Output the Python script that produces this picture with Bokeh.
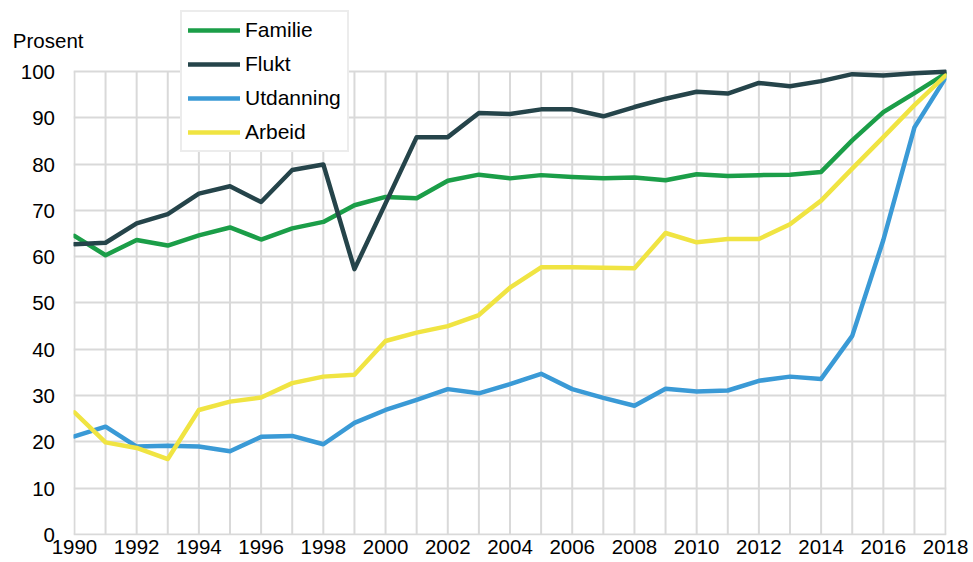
from bokeh.plotting import figure
from bokeh.models import Range1d, FixedTicker, Legend, LegendItem
from bokeh.embed import file_html
from bokeh.resources import INLINE

years = list(range(1990, 2019))
familie = [64.5, 60.3, 63.6, 62.4, 64.6, 66.3, 63.7, 66.1, 67.5, 71.1,
           72.9, 72.6, 76.4, 77.7, 76.9, 77.6, 77.2, 76.9, 77.1, 76.5,
           77.8, 77.4, 77.6, 77.7, 78.3, 85.1, 91.2, 95.3, 99.5]
flukt = [62.7, 63.0, 67.2, 69.2, 73.6, 75.2, 71.8, 78.7, 79.9, 57.3,
         71.5, 85.8, 85.8, 91.0, 90.8, 91.8, 91.8, 90.3, 92.3, 94.1,
         95.6, 95.2, 97.5, 96.8, 97.9, 99.4, 99.1, 99.6, 99.9]
utdanning = [21.2, 23.3, 19.0, 19.2, 19.0, 18.0, 21.1, 21.3, 19.5, 24.1,
             26.9, 29.1, 31.4, 30.5, 32.5, 34.7, 31.4, 29.5, 27.8, 31.5,
             30.9, 31.1, 33.2, 34.1, 33.6, 42.9, 63.6, 87.9, 98.6]
arbeid = [26.4, 19.9, 18.7, 16.3, 26.9, 28.7, 29.6, 32.7, 34.1, 34.5,
          41.8, 43.6, 45.0, 47.4, 53.3, 57.7, 57.7, 57.6, 57.5, 65.1,
          63.1, 63.8, 63.8, 67.0, 72.1, 79.0, 85.8, 92.7, 99.1]

series_names = ["Familie", "Flukt", "Utdanning", "Arbeid"]
series_values = [familie, flukt, utdanning, arbeid]
colors = ["#1b9e48", "#25444a", "#3a9ad6", "#f0e442"]

x_tick_labels = list(range(1990, 2019, 2))
y_ticks = list(range(0, 101, 10))
y_unit_label = "Prosent"
y_unit_pos = 106.6   # the unit text sits just above the top tick

FONT = "Liberation Sans"
GRID = "#d9d9d9"
FS = "20.5px"

# frame spans from the top of the canvas so the legend (which sits above
# the 100-line) is inside it; y range top chosen so 100 lands at ~71px
p = figure(width=973, height=562, output_backend="svg", toolbar_location=None,
           x_range=Range1d(1989.97, 2018.03), y_range=Range1d(-0.2, 115.3),
           min_border_left=73, min_border_right=27, min_border_top=0,
           min_border_bottom=27)
p.outline_line_color = None
p.background_fill_color = "white"

# vertical grid lines that stop at the top tick (100)
p.xgrid.visible = False
p.segment(x0=years, y0=[y_ticks[0]] * len(years), x1=years,
          y1=[y_ticks[-1]] * len(years), line_color=GRID, line_width=2,
          level="underlay")
p.ygrid.ticker = FixedTicker(ticks=y_ticks)
p.ygrid.grid_line_color = GRID
p.ygrid.grid_line_width = 2

items = []
for name, vals, c in zip(series_names, series_values, colors):
    r = p.line(years, vals, line_color=c, line_width=4.5,
               line_cap="round", line_join="round")
    items.append(LegendItem(label=name, renderers=[r]))

# axes
p.xaxis.ticker = FixedTicker(ticks=x_tick_labels)
p.yaxis.ticker = FixedTicker(ticks=y_ticks + [y_unit_pos])
# numbers are right-aligned with a trailing non-breaking pad so the
# "Prosent" unit text can start further left and run past the frame edge
pad = "\u00a0" * 5
overrides = {t: f"{t}{pad}" for t in y_ticks}
overrides[y_unit_pos] = y_unit_label
p.yaxis.major_label_overrides = overrides
for ax in (p.xaxis, p.yaxis):
    ax.axis_line_color = None
    ax.major_tick_line_color = None
    ax.minor_tick_line_color = None
    ax.major_tick_out = 0
    ax.major_tick_in = 0
    ax.major_label_text_font = FONT
    ax.major_label_text_font_size = FS
    ax.major_label_text_color = "black"
p.xaxis.major_label_standoff = 4
p.yaxis.major_label_standoff = -10

legend = Legend(items=items, location=(107, 383), margin=0, padding=6,
                spacing=10, glyph_width=52, glyph_height=24, label_height=24,
                label_standoff=5, label_text_font=FONT,
                label_text_font_size="21px", label_text_color="black",
                border_line_color=GRID, border_line_width=2,
                background_fill_color="white", background_fill_alpha=1)
p.add_layout(legend, "center")

open("out.html", "w").write(file_html(p, INLINE))
